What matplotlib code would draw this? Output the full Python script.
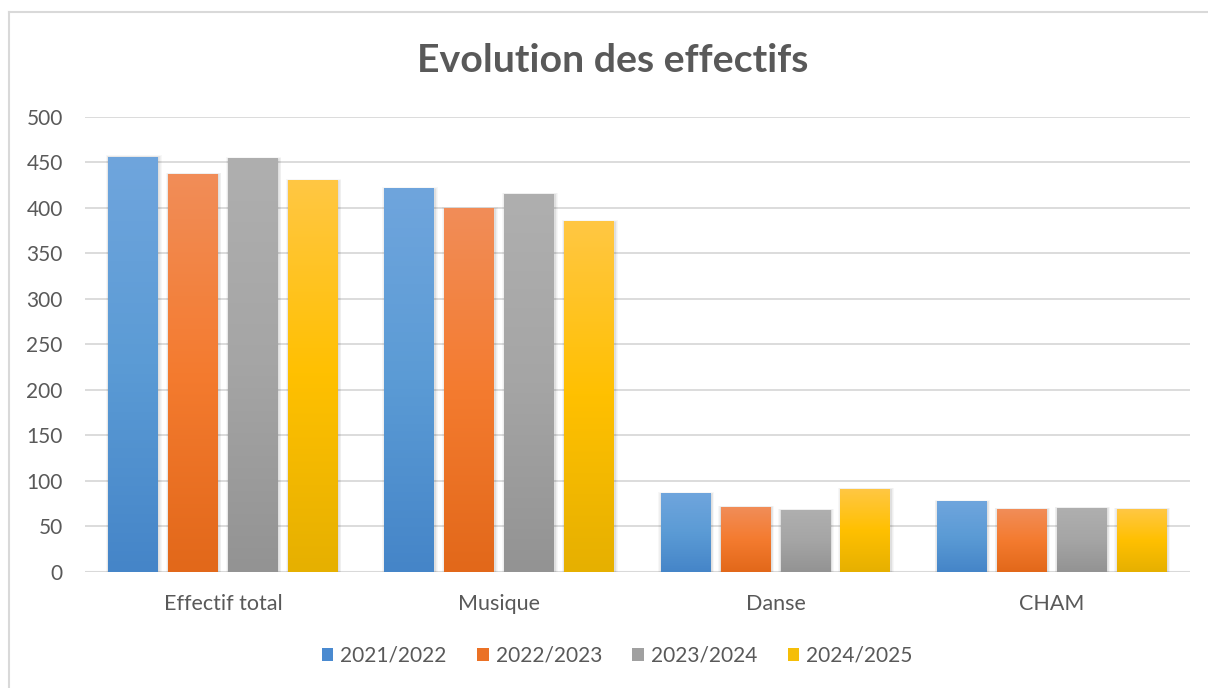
import numpy as np
import matplotlib
matplotlib.use('Agg')
import matplotlib.pyplot as plt
from matplotlib.colors import LinearSegmentedColormap
from matplotlib.patches import Patch, Rectangle
from matplotlib.lines import Line2D

plt.rcParams['font.family'] = ['Lato', 'DejaVu Sans']

categories = ['Effectif total', 'Musique', 'Danse', 'CHAM']
seasons = ['2021/2022', '2022/2023', '2023/2024', '2024/2025']
v_2021 = [456, 421, 86, 77]
v_2022 = [437, 399, 71, 69]
v_2023 = [454, 415, 68, 70]
v_2024 = [430, 385, 91, 69]
series = [v_2021, v_2022, v_2023, v_2024]

# top / middle / bottom of each gradient
grads = [
    ['#6FA5DD', '#5B9BD5', '#4585C8'],
    ['#F18D58', '#F47B2F', '#E2681A'],
    ['#AFAFAF', '#A5A5A5', '#939393'],
    ['#FFC743', '#FFC000', '#E6B000'],
]
legend_colors = ['#4A8AD0', '#EB7125', '#A0A0A0', '#F5BE08']

fig = plt.figure(figsize=(12.08, 6.88), dpi=100)
ax = fig.add_axes([0.0704, 0.1686, 0.9146, 0.6614])

width = 0.181
pitch = 0.217
x = np.arange(len(categories))
grid_img = np.linspace(1, 0, 200).reshape(-1, 1)

for i, vals in enumerate(series):
    cmap = LinearSegmentedColormap.from_list('g%d' % i, grads[i][::-1])
    for j, v in enumerate(vals):
        x0 = x[j] + (i - 1.5) * pitch - width / 2
        # soft shadow around the bar
        for k in range(1, 5):
            dx = 0.0025 * k
            dy = 0.55 * k
            ax.add_patch(Rectangle((x0 - dx + 0.002, -dy - 0.5), width + 2 * dx, v + 2 * dy,
                                   facecolor='black', alpha=0.03, lw=0, zorder=2))
        ax.imshow(grid_img, cmap=cmap, extent=[x0, x0 + width, 0, v],
                  aspect='auto', zorder=3, interpolation='bicubic')

ax.set_xlim(-0.5, 3.5)
ax.set_ylim(0, 500)
ax.set_yticks(range(0, 501, 50))
ax.set_xticks(x)
ax.set_xticklabels(categories)
ax.yaxis.grid(True, color='#D9D9D9', lw=1.3, zorder=0)
ax.set_axisbelow(True)
for s in ['top', 'right', 'left', 'bottom']:
    ax.spines[s].set_visible(False)
ax.axhline(0, color='#D9D9D9', lw=1.5, zorder=1)
ax.tick_params(axis='both', length=0, labelcolor='#595959')
ax.tick_params(axis='y', labelsize=15, pad=16)
ax.tick_params(axis='x', labelsize=15.5, pad=15.5)

fig.text(0.5075, 1 - 60 / 688, 'Evolution des effectifs', ha='center', va='center',
         fontsize=28.3, fontweight='bold', color='#595959')

handles = [Patch(facecolor=c, edgecolor='none') for c in legend_colors]
fig.legend(handles, seasons, loc='center', bbox_to_anchor=(0.511, 1 - 656 / 688),
           ncol=4, frameon=False, fontsize=15, handlelength=0.55, handleheight=0.55,
           handletextpad=0.35, columnspacing=1.45, labelcolor='#595959')

# outer chart border
fig.add_artist(Line2D([9 / 1208, 9 / 1208], [0, 1 - 12 / 688], color='#D9D9D9', lw=1.5))
fig.add_artist(Line2D([9 / 1208, 1], [1 - 12 / 688, 1 - 12 / 688], color='#D9D9D9', lw=1.5))

fig.savefig('out.png', dpi=100)
